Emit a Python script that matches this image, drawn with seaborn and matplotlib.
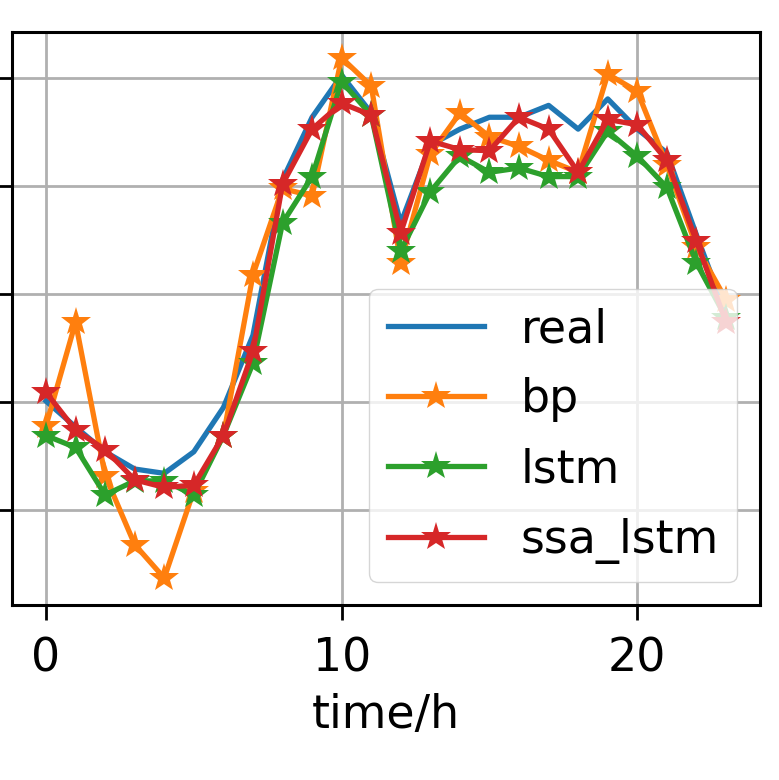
import pandas as pd
import seaborn as sns
import matplotlib
matplotlib.use("Agg")
import matplotlib.pyplot as plt

hours = list(range(24))
real = [2.01, 1.77, 1.54, 1.38, 1.34, 1.54, 1.95, 2.62, 4.06, 4.64, 5.03, 4.68,
        3.66, 4.38, 4.53, 4.64, 4.64, 4.75, 4.53, 4.81, 4.53, 4.31, 3.55, 2.82]
bp = [1.78, 2.74, 1.32, 0.68, 0.37, 1.18, 1.69, 3.18, 3.98, 3.91, 5.19, 4.93,
      3.29, 4.30, 4.68, 4.46, 4.37, 4.24, 4.13, 5.04, 4.88, 4.20, 3.44, 2.95]
lstm = [1.69, 1.58, 1.14, 1.27, 1.27, 1.14, 1.69, 2.36, 3.66, 4.09, 4.97, 4.66,
        3.40, 3.95, 4.28, 4.13, 4.17, 4.09, 4.09, 4.51, 4.28, 3.99, 3.29, 2.78]
ssa_lstm = [2.09, 1.74, 1.56, 1.28, 1.21, 1.23, 1.69, 2.47, 4.02, 4.53, 4.77, 4.66,
            3.57, 4.42, 4.34, 4.33, 4.64, 4.53, 4.13, 4.62, 4.57, 4.24, 3.49, 2.74]

df = pd.DataFrame({"time": hours, "real": real, "bp": bp, "lstm": lstm, "ssa_lstm": ssa_lstm})

plt.rcParams["font.family"] = ["DejaVu Sans"]
fig = plt.figure(figsize=(7.79, 7.8), dpi=100)
ax = fig.add_axes([12 / 779, 175 / 780, 748 / 779, 573 / 780])

colors = sns.color_palette("tab10")
sns.lineplot(data=df, x="time", y="real", ax=ax, color=colors[0], linewidth=3.8, label="real")
for i, name in enumerate(["bp", "lstm", "ssa_lstm"]):
    sns.lineplot(data=df, x="time", y=name, ax=ax, color=colors[i + 1], linewidth=3.8,
                 marker="*", markersize=22, markeredgewidth=0, label=name)

ax.set_xlim(-1.15, 24.15)
ax.set_ylim(0.12, 5.43)
ax.set_xticks([0, 10, 20])
ax.set_yticks([1, 2, 3, 4, 5])
ax.set_yticklabels([])
ax.grid(True, color="#b0b0b0", linewidth=2)
ax.tick_params(axis="both", labelsize=33, length=11, width=2)
ax.tick_params(axis="x", pad=12)
for s in ax.spines.values():
    s.set_linewidth(2.2)
ax.set_xlabel("time/h", fontsize=33, labelpad=8)
ax.set_ylabel("")
ax.legend(loc="lower right", fontsize=33, handlelength=2.1, labelspacing=0.55)

fig.savefig("out.png", dpi=100)
